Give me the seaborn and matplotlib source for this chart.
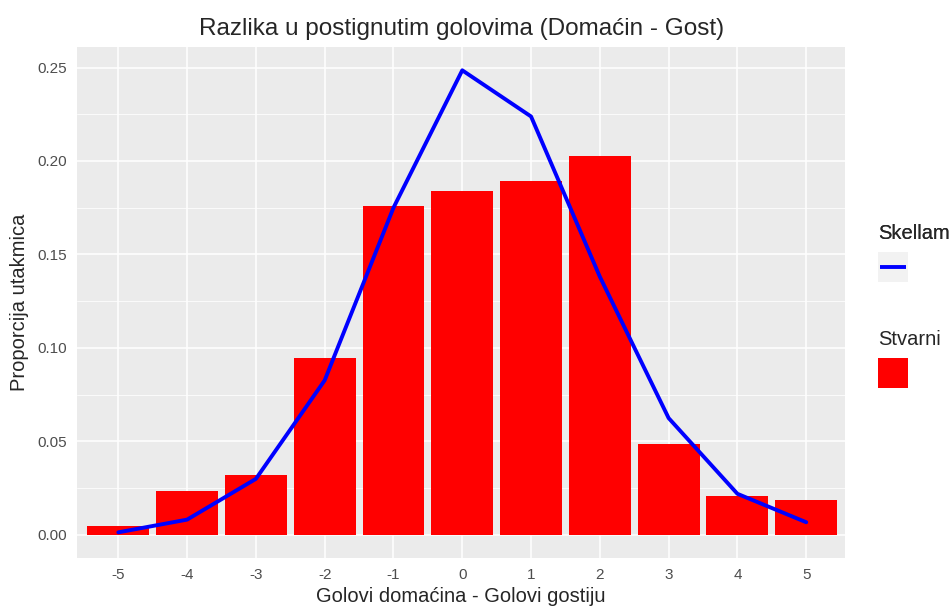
import numpy as np
import pandas as pd
import matplotlib
matplotlib.use('Agg')
import matplotlib.pyplot as plt
from matplotlib.lines import Line2D
from matplotlib.patches import Patch, Rectangle
from matplotlib.legend_handler import HandlerBase
import seaborn as sns

# Podaci procitani sa slike
razlika = [-5, -4, -3, -2, -1, 0, 1, 2, 3, 4, 5]
stvarni = [0.0050, 0.0237, 0.0323, 0.0947, 0.1760, 0.1842, 0.1893, 0.2029, 0.0488, 0.0211, 0.0188]
skellam = [0.0014, 0.0082, 0.0300, 0.0827, 0.1750, 0.2485, 0.2238, 0.1381, 0.0625, 0.0220, 0.0068]

df = pd.DataFrame({'razlika': razlika, 'stvarni': stvarni, 'skellam': skellam})

sns.set_style('darkgrid', {'axes.facecolor': '#EBEBEB', 'grid.color': 'white'})
plt.rcParams['font.family'] = ['Liberation Sans', 'DejaVu Sans']


# kljuc legende za liniju: sivo polje s linijom po sredini
class LineKey(HandlerBase):
    def create_artists(self, legend, orig, xdescent, ydescent, width, height, fontsize, trans):
        bg = Rectangle((-xdescent, -ydescent), width, height, facecolor='#F2F2F2',
                       edgecolor='none', transform=trans)
        y = -ydescent + height / 2
        ln = Line2D([-xdescent + width * 0.06, -xdescent + width * 0.94], [y, y],
                    color='blue', linewidth=2.8, solid_capstyle='butt', transform=trans)
        return [bg, ln]


fig = plt.figure(figsize=(9.51, 6.12), dpi=100)
ax = fig.add_axes([0.081, 0.088, 0.808, 0.835])

sns.barplot(data=df, x='razlika', y='stvarni', native_scale=True, color='red',
            saturation=1, width=0.9, linewidth=0, ax=ax, zorder=2)
sns.lineplot(data=df, x='razlika', y='skellam', color='blue', linewidth=2.8, ax=ax, zorder=3)

ax.set_xlim(-5.6, 5.57)
ax.set_ylim(-0.0124, 0.2609)
ax.set_xticks(razlika)
ax.set_xticklabels([str(v) for v in razlika])
ax.set_yticks([0.00, 0.05, 0.10, 0.15, 0.20, 0.25])
ax.set_yticklabels(['0.00', '0.05', '0.10', '0.15', '0.20', '0.25'])
ax.set_yticks([0.025, 0.075, 0.125, 0.175, 0.225], minor=True)
ax.grid(True, which='major', color='white', linewidth=1.1)
ax.grid(True, which='minor', axis='y', color='white', linewidth=0.55)
ax.set_axisbelow(True)
for s in ax.spines.values():
    s.set_visible(False)
ax.tick_params(axis='both', which='major', length=4, width=1, color='#333333',
               labelcolor='#4D4D4D', labelsize=11, pad=3)
ax.tick_params(axis='both', which='minor', length=0)

ax.set_title('Razlika u postignutim golovima (Domaćin - Gost)', fontsize=17.5, pad=9)
ax.set_xlabel('Golovi domaćina - Golovi gostiju', fontsize=14.5, labelpad=4)
ax.set_ylabel('Proporcija utakmica', fontsize=14.5, labelpad=6)

# Legende
h1 = Line2D([], [], color='blue')
leg1 = fig.legend([h1], [''], title='Skellam', loc='upper left',
                  bbox_to_anchor=(0.915, 0.647), frameon=False, fontsize=12,
                  title_fontsize=14.5, handlelength=1.75, handleheight=2.4,
                  borderpad=0, handletextpad=0, alignment='left',
                  handler_map={Line2D: LineKey()})
h2 = Patch(facecolor='red', edgecolor='none')
leg2 = fig.legend([h2], [''], title='Stvarni', loc='upper left',
                  bbox_to_anchor=(0.915, 0.474), frameon=False, fontsize=12,
                  title_fontsize=14.5, handlelength=1.75, handleheight=2.4,
                  borderpad=0, handletextpad=0, alignment='left')
fig.add_artist(leg1)

fig.savefig('out.png', dpi=100)
plt.close(fig)
